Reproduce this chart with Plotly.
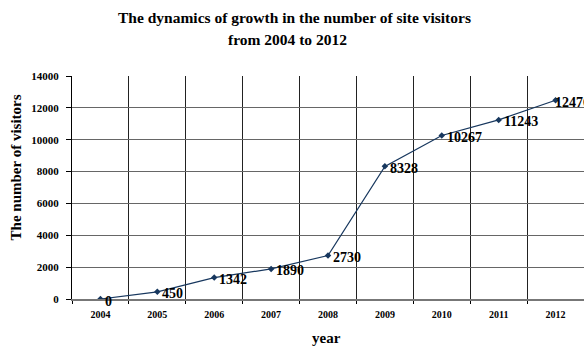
import plotly.graph_objects as go

years = ["2004", "2005", "2006", "2007", "2008", "2009", "2010", "2011", "2012"]
visitors = [0, 450, 1342, 1890, 2730, 8328, 10267, 11243, 12476]
y_ticks = [0, 2000, 4000, 6000, 8000, 10000, 12000, 14000]

SERIF = "Liberation Serif, Times New Roman, serif"
LINE = "#17375E"

def bold(size):
    return dict(family=SERIF, size=size, color="black", weight="bold")

fig = go.Figure()
fig.add_trace(go.Scatter(
    x=years, y=visitors, mode="lines+markers",
    line=dict(color=LINE, width=1.2),
    marker=dict(symbol="diamond", size=5, color=LINE),
    hoverinfo="skip", showlegend=False,
))
last = len(visitors) - 1
for i, yv in enumerate(visitors):
    fig.add_annotation(x=i, y=yv, text=str(yv), showarrow=False,
                       xanchor="left", yanchor="middle",
                       xshift=-3 if i == last else 3, yshift=-2,
                       font=bold(14))

fig.add_annotation(text="The dynamics of growth in the number of site visitors",
                   xref="paper", yref="paper", x=0.435, y=1, yshift=59,
                   xanchor="center", yanchor="middle", showarrow=False,
                   font=bold(15.5))
fig.add_annotation(text="from 2004 to 2012",
                   xref="paper", yref="paper", x=0.42, y=1, yshift=37,
                   xanchor="center", yanchor="middle", showarrow=False,
                   font=bold(15.5))
fig.add_annotation(text="The number of visitors", textangle=-90,
                   xref="paper", yref="paper", x=0, xshift=-56, y=0.59,
                   xanchor="center", yanchor="middle", showarrow=False,
                   font=bold(15))
fig.add_annotation(text="year",
                   xref="paper", yref="paper", x=0.497, y=0, yshift=-39,
                   xanchor="center", yanchor="middle", showarrow=False,
                   font=bold(15))

fig.update_layout(
    width=584, height=347,
    margin=dict(l=72, r=0, t=76, b=48),
    paper_bgcolor="white", plot_bgcolor="white",
    font=dict(family=SERIF, color="black"),
    xaxis=dict(
        type="category", tickson="boundaries", ticks="outside", ticklen=3,
        tickcolor="black", showgrid=True, gridcolor="#222", gridwidth=1,
        showline=True, linecolor="#777", linewidth=1.5,
        tickfont=bold(10), ticklabelstandoff=5,
        range=[-0.5, 8.5],
    ),
    yaxis=dict(
        range=[0, 14000], tickvals=y_ticks, tickformat="d", ticks="outside", ticklen=5,
        tickcolor="black", showgrid=True, gridcolor="#666", gridwidth=1.2,
        showline=True, linecolor="black", linewidth=1, zeroline=False,
        tickfont=bold(11), ticklabelstandoff=5,
    ),
)
fig.write_html("out.html")
